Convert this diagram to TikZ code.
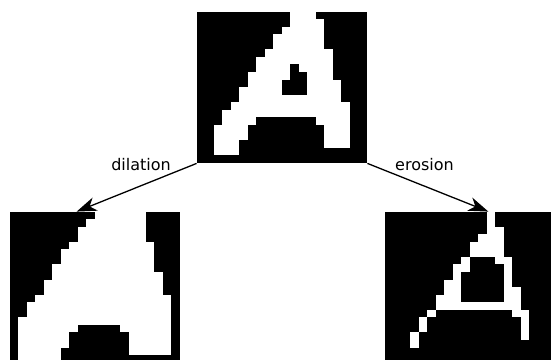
\documentclass[tikz,border=0pt]{standalone}
\usepackage{fontspec}
\setmainfont{DejaVu Sans}
\usepackage{xcolor}
\usetikzlibrary{positioning, arrows.meta}
\definecolor{pixW}{HTML}{FFFFFF}
\definecolor{pixB}{HTML}{000000}

\tikzset{
  bitmap/.style={fill=pixB, inner sep=0pt, minimum width=85pt, minimum height=75.5pt},
  grid/.style={x=4.25pt, y=-3.775pt},
  morph/.style={-{Stealth[length=10pt, width=7pt, inset=3pt]}, line width=0.65pt},
  oplabel/.style={anchor=base, font=\fontsize{8}{10}\selectfont}
}

\begin{document}
\begin{tikzpicture}[x=0.5pt, y=-0.5pt]
  \clip (0,0) rectangle (551,359);
  % three 20x20 binary images
  \node[bitmap] (orig) at (282,87.5) {};
  \node[bitmap] (dil) at (95,287.5) {};
  \node[bitmap] (ero) at (470,287.5) {};
  % white runs: row/first col/last col
  \begin{scope}[shift={(orig.north west)}, grid]
    \foreach \r/\a/\b in {0/11/13, 1/11/14, 2/10/14, 3/9/14, 4/9/14, 5/8/15,
      6/7/15, 7/7/10, 7/12/15, 8/6/10, 8/13/15, 9/6/9, 9/13/16, 10/5/9,
      10/13/16, 11/5/16, 12/4/17, 13/3/17, 14/3/6, 14/14/17, 15/2/5,
      15/15/17, 16/2/5, 16/15/17, 17/2/4, 17/15/17, 18/2/4}
      \fill[pixW] (\a,\r) rectangle ({\b+1},{\r+1});
  \end{scope}
  \begin{scope}[shift={(dil.north west)}, grid]
    \foreach \r/\a/\b in {0/10/15, 1/9/15, 2/8/15, 3/8/15, 4/7/16, 5/6/16,
      6/6/16, 7/5/16, 8/5/17, 9/4/17, 10/4/17, 11/3/18, 12/2/18, 13/2/18,
      14/1/18, 15/1/7, 15/13/18, 16/1/6, 16/14/18, 17/1/6, 17/14/18,
      18/1/5, 18/14/18, 19/1/5}
      \fill[pixW] (\a,\r) rectangle ({\b+1},{\r+1});
  \end{scope}
  \begin{scope}[shift={(ero.north west)}, grid]
    \foreach \r/\a/\b in {0/12/12, 1/12/12, 2/12/13, 3/11/13, 4/10/13,
      5/10/13, 6/9/9, 6/13/14, 7/8/9, 7/14/14, 8/8/8, 8/14/14, 9/7/8,
      9/14/14, 10/7/8, 10/14/15, 11/6/8, 11/14/15, 12/6/15, 13/5/5,
      13/15/16, 14/4/4, 14/16/16, 15/4/4, 15/16/16, 16/3/3, 16/16/16, 17/3/3}
      \fill[pixW] (\a,\r) rectangle ({\b+1},{\r+1});
  \end{scope}
  % arrows
  \coordinate (dtip) at ([xshift=33.5pt]dil.north west);
  \coordinate (etip) at ([xshift=-33.5pt]ero.north east);
  \draw[morph] (orig.south west) -- (dtip);
  \draw[morph] (orig.south east) -- (etip);
  \node[oplabel] (dlab) at (141,170) {dilation};
  \node[oplabel] (elab) at (424.5,170.5) {erosion};
\end{tikzpicture}
\end{document}
